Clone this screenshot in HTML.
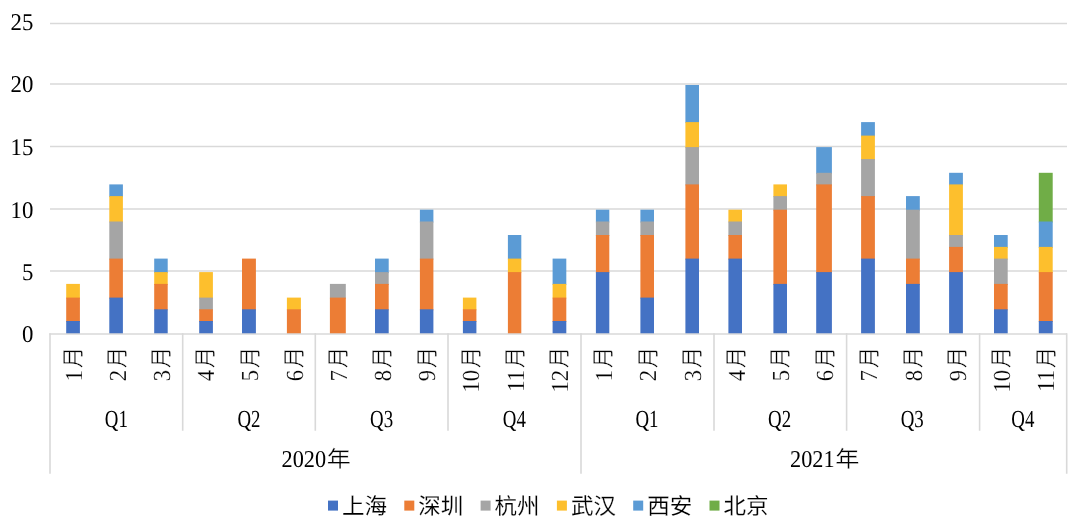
<!DOCTYPE html><html lang="zh-CN"><head><meta charset="utf-8"><style>html,body{margin:0;padding:0;background:#fff;width:1080px;height:529px;overflow:hidden}svg{display:block;will-change:transform}text{text-rendering:geometricPrecision;font-family:"Liberation Serif",serif;fill:#000;stroke:#fff;stroke-width:0}.m{stroke-width:0.2px}.cj{stroke-width:0.35px}.lg{stroke-width:0.15px}</style></head><body>
<svg width="1080" height="529" viewBox="0 0 1080 529">
<rect x="50.0" y="22.75" width="1017" height="1.5" fill="#D9D9D9"/>
<rect x="50.0" y="83.25" width="1017" height="1.5" fill="#D9D9D9"/>
<rect x="50.0" y="145.75" width="1017" height="1.5" fill="#D9D9D9"/>
<rect x="50.0" y="208.25" width="1017" height="1.5" fill="#D9D9D9"/>
<rect x="50.0" y="270.25" width="1017" height="1.5" fill="#D9D9D9"/>
<rect x="66.20" y="283.90" width="13.70" height="14.70" fill="#FDBF2D"/>
<rect x="66.20" y="297.60" width="13.70" height="24.40" fill="#EC7D35"/>
<rect x="66.20" y="321.00" width="13.70" height="13.00" fill="#4472C4"/>
<rect x="109.30" y="184.40" width="13.60" height="12.70" fill="#5B9BD5"/>
<rect x="109.30" y="196.10" width="13.60" height="26.40" fill="#FDBF2D"/>
<rect x="109.30" y="221.50" width="13.60" height="38.10" fill="#A5A5A5"/>
<rect x="109.30" y="258.60" width="13.60" height="40.00" fill="#EC7D35"/>
<rect x="109.30" y="297.60" width="13.60" height="36.40" fill="#4472C4"/>
<rect x="154.20" y="258.60" width="13.50" height="14.50" fill="#5B9BD5"/>
<rect x="154.20" y="272.10" width="13.50" height="12.80" fill="#FDBF2D"/>
<rect x="154.20" y="283.90" width="13.50" height="26.40" fill="#EC7D35"/>
<rect x="154.20" y="309.30" width="13.50" height="24.70" fill="#4472C4"/>
<rect x="199.20" y="272.10" width="13.70" height="26.50" fill="#FDBF2D"/>
<rect x="199.20" y="297.60" width="13.70" height="12.70" fill="#A5A5A5"/>
<rect x="199.20" y="309.30" width="13.70" height="12.70" fill="#EC7D35"/>
<rect x="199.20" y="321.00" width="13.70" height="13.00" fill="#4472C4"/>
<rect x="242.00" y="258.60" width="13.90" height="51.70" fill="#EC7D35"/>
<rect x="242.00" y="309.30" width="13.90" height="24.70" fill="#4472C4"/>
<rect x="286.90" y="297.60" width="14.00" height="12.70" fill="#FDBF2D"/>
<rect x="286.90" y="309.30" width="14.00" height="24.70" fill="#EC7D35"/>
<rect x="329.90" y="283.90" width="15.90" height="14.70" fill="#A5A5A5"/>
<rect x="329.90" y="297.60" width="15.90" height="36.40" fill="#EC7D35"/>
<rect x="375.00" y="258.60" width="13.70" height="14.50" fill="#5B9BD5"/>
<rect x="375.00" y="272.10" width="13.70" height="12.80" fill="#A5A5A5"/>
<rect x="375.00" y="283.90" width="13.70" height="26.40" fill="#EC7D35"/>
<rect x="375.00" y="309.30" width="13.70" height="24.70" fill="#4472C4"/>
<rect x="419.90" y="209.70" width="13.50" height="12.80" fill="#5B9BD5"/>
<rect x="419.90" y="221.50" width="13.50" height="38.10" fill="#A5A5A5"/>
<rect x="419.90" y="258.60" width="13.50" height="51.70" fill="#EC7D35"/>
<rect x="419.90" y="309.30" width="13.50" height="24.70" fill="#4472C4"/>
<rect x="462.90" y="297.60" width="13.50" height="12.70" fill="#FDBF2D"/>
<rect x="462.90" y="309.30" width="13.50" height="12.70" fill="#EC7D35"/>
<rect x="462.90" y="321.00" width="13.50" height="13.00" fill="#4472C4"/>
<rect x="507.90" y="235.00" width="13.40" height="24.60" fill="#5B9BD5"/>
<rect x="507.90" y="258.60" width="13.40" height="14.50" fill="#FDBF2D"/>
<rect x="507.90" y="272.10" width="13.40" height="61.90" fill="#EC7D35"/>
<rect x="552.60" y="258.60" width="13.70" height="26.30" fill="#5B9BD5"/>
<rect x="552.60" y="283.90" width="13.70" height="14.70" fill="#FDBF2D"/>
<rect x="552.60" y="297.60" width="13.70" height="24.40" fill="#EC7D35"/>
<rect x="552.60" y="321.00" width="13.70" height="13.00" fill="#4472C4"/>
<rect x="595.90" y="209.70" width="13.40" height="12.80" fill="#5B9BD5"/>
<rect x="595.90" y="221.50" width="13.40" height="14.50" fill="#A5A5A5"/>
<rect x="595.90" y="235.00" width="13.40" height="38.10" fill="#EC7D35"/>
<rect x="595.90" y="272.10" width="13.40" height="61.90" fill="#4472C4"/>
<rect x="640.40" y="209.70" width="13.60" height="12.80" fill="#5B9BD5"/>
<rect x="640.40" y="221.50" width="13.60" height="14.50" fill="#A5A5A5"/>
<rect x="640.40" y="235.00" width="13.60" height="63.60" fill="#EC7D35"/>
<rect x="640.40" y="297.60" width="13.60" height="36.40" fill="#4472C4"/>
<rect x="685.40" y="85.00" width="13.60" height="38.10" fill="#5B9BD5"/>
<rect x="685.40" y="122.10" width="13.60" height="26.00" fill="#FDBF2D"/>
<rect x="685.40" y="147.10" width="13.60" height="38.30" fill="#A5A5A5"/>
<rect x="685.40" y="184.40" width="13.60" height="75.20" fill="#EC7D35"/>
<rect x="685.40" y="258.60" width="13.60" height="75.40" fill="#4472C4"/>
<rect x="728.40" y="209.70" width="13.60" height="12.80" fill="#FDBF2D"/>
<rect x="728.40" y="221.50" width="13.60" height="14.50" fill="#A5A5A5"/>
<rect x="728.40" y="235.00" width="13.60" height="24.60" fill="#EC7D35"/>
<rect x="728.40" y="258.60" width="13.60" height="75.40" fill="#4472C4"/>
<rect x="773.40" y="184.40" width="13.60" height="12.70" fill="#FDBF2D"/>
<rect x="773.40" y="196.10" width="13.60" height="14.60" fill="#A5A5A5"/>
<rect x="773.40" y="209.70" width="13.60" height="75.20" fill="#EC7D35"/>
<rect x="773.40" y="283.90" width="13.60" height="50.10" fill="#4472C4"/>
<rect x="816.20" y="147.10" width="15.70" height="26.70" fill="#5B9BD5"/>
<rect x="816.20" y="172.80" width="15.70" height="12.60" fill="#A5A5A5"/>
<rect x="816.20" y="184.40" width="15.70" height="88.70" fill="#EC7D35"/>
<rect x="816.20" y="272.10" width="15.70" height="61.90" fill="#4472C4"/>
<rect x="861.10" y="122.10" width="13.80" height="14.50" fill="#5B9BD5"/>
<rect x="861.10" y="135.60" width="13.80" height="24.50" fill="#FDBF2D"/>
<rect x="861.10" y="159.10" width="13.80" height="38.00" fill="#A5A5A5"/>
<rect x="861.10" y="196.10" width="13.80" height="63.50" fill="#EC7D35"/>
<rect x="861.10" y="258.60" width="13.80" height="75.40" fill="#4472C4"/>
<rect x="906.00" y="196.10" width="13.80" height="14.60" fill="#5B9BD5"/>
<rect x="906.00" y="209.70" width="13.80" height="49.90" fill="#A5A5A5"/>
<rect x="906.00" y="258.60" width="13.80" height="26.30" fill="#EC7D35"/>
<rect x="906.00" y="283.90" width="13.80" height="50.10" fill="#4472C4"/>
<rect x="949.10" y="172.80" width="13.80" height="12.60" fill="#5B9BD5"/>
<rect x="949.10" y="184.40" width="13.80" height="51.60" fill="#FDBF2D"/>
<rect x="949.10" y="235.00" width="13.80" height="12.90" fill="#A5A5A5"/>
<rect x="949.10" y="246.90" width="13.80" height="26.20" fill="#EC7D35"/>
<rect x="949.10" y="272.10" width="13.80" height="61.90" fill="#4472C4"/>
<rect x="994.00" y="235.00" width="13.70" height="12.90" fill="#5B9BD5"/>
<rect x="994.00" y="246.90" width="13.70" height="12.70" fill="#FDBF2D"/>
<rect x="994.00" y="258.60" width="13.70" height="26.30" fill="#A5A5A5"/>
<rect x="994.00" y="283.90" width="13.70" height="26.40" fill="#EC7D35"/>
<rect x="994.00" y="309.30" width="13.70" height="24.70" fill="#4472C4"/>
<rect x="1038.80" y="172.80" width="13.90" height="49.70" fill="#70AD47"/>
<rect x="1038.80" y="221.50" width="13.90" height="26.40" fill="#5B9BD5"/>
<rect x="1038.80" y="246.90" width="13.90" height="26.20" fill="#FDBF2D"/>
<rect x="1038.80" y="272.10" width="13.90" height="49.90" fill="#EC7D35"/>
<rect x="1038.80" y="321.00" width="13.90" height="13.00" fill="#4472C4"/>
<rect x="49.25" y="333.25" width="1017.75" height="1.5" fill="#D9D9D9"/>
<rect x="49.20" y="333.25" width="1.6" height="140.5" fill="#D9D9D9"/>
<rect x="580.20" y="333.25" width="1.6" height="140.5" fill="#D9D9D9"/>
<rect x="1065.90" y="333.25" width="1.6" height="140.5" fill="#D9D9D9"/>
<rect x="181.90" y="333.25" width="1.6" height="97.5" fill="#D9D9D9"/>
<rect x="314.50" y="333.25" width="1.6" height="97.5" fill="#D9D9D9"/>
<rect x="447.20" y="333.25" width="1.6" height="97.5" fill="#D9D9D9"/>
<rect x="713.20" y="333.25" width="1.6" height="97.5" fill="#D9D9D9"/>
<rect x="845.80" y="333.25" width="1.6" height="97.5" fill="#D9D9D9"/>
<rect x="978.80" y="333.25" width="1.6" height="97.5" fill="#D9D9D9"/>
<text transform="translate(33.3 29.60) scale(0.95 1)" text-anchor="end" font-size="24.0">25</text>
<text transform="translate(33.3 92.20) scale(0.95 1)" text-anchor="end" font-size="24.0">20</text>
<text transform="translate(33.3 154.70) scale(0.95 1)" text-anchor="end" font-size="24.0">15</text>
<text transform="translate(33.3 217.50) scale(0.95 1)" text-anchor="end" font-size="24.0">10</text>
<text transform="translate(33.3 279.70) scale(0.95 1)" text-anchor="end" font-size="24.0">5</text>
<text transform="translate(33.3 342.20) scale(0.95 1)" text-anchor="end" font-size="24.0">0</text>
<text transform="translate(80.80 346.70) rotate(-90) scale(0.96 1)" text-anchor="end" font-size="22.5" class="cj">月</text>
<text transform="translate(81.50 370.00) rotate(-90) scale(0.92 1)" text-anchor="end" font-size="24.5" class="m">1</text>
<text transform="translate(125.02 346.70) rotate(-90) scale(0.96 1)" text-anchor="end" font-size="22.5" class="cj">月</text>
<text transform="translate(125.72 370.00) rotate(-90) scale(0.92 1)" text-anchor="end" font-size="24.5" class="m">2</text>
<text transform="translate(169.23 346.70) rotate(-90) scale(0.96 1)" text-anchor="end" font-size="22.5" class="cj">月</text>
<text transform="translate(169.93 370.00) rotate(-90) scale(0.92 1)" text-anchor="end" font-size="24.5" class="m">3</text>
<text transform="translate(213.45 346.70) rotate(-90) scale(0.96 1)" text-anchor="end" font-size="22.5" class="cj">月</text>
<text transform="translate(214.15 370.00) rotate(-90) scale(0.92 1)" text-anchor="end" font-size="24.5" class="m">4</text>
<text transform="translate(257.67 346.70) rotate(-90) scale(0.96 1)" text-anchor="end" font-size="22.5" class="cj">月</text>
<text transform="translate(258.37 370.00) rotate(-90) scale(0.92 1)" text-anchor="end" font-size="24.5" class="m">5</text>
<text transform="translate(301.89 346.70) rotate(-90) scale(0.96 1)" text-anchor="end" font-size="22.5" class="cj">月</text>
<text transform="translate(302.59 370.00) rotate(-90) scale(0.92 1)" text-anchor="end" font-size="24.5" class="m">6</text>
<text transform="translate(346.10 346.70) rotate(-90) scale(0.96 1)" text-anchor="end" font-size="22.5" class="cj">月</text>
<text transform="translate(346.80 370.00) rotate(-90) scale(0.92 1)" text-anchor="end" font-size="24.5" class="m">7</text>
<text transform="translate(390.32 346.70) rotate(-90) scale(0.96 1)" text-anchor="end" font-size="22.5" class="cj">月</text>
<text transform="translate(391.02 370.00) rotate(-90) scale(0.92 1)" text-anchor="end" font-size="24.5" class="m">8</text>
<text transform="translate(434.54 346.70) rotate(-90) scale(0.96 1)" text-anchor="end" font-size="22.5" class="cj">月</text>
<text transform="translate(435.24 370.00) rotate(-90) scale(0.92 1)" text-anchor="end" font-size="24.5" class="m">9</text>
<text transform="translate(478.76 346.70) rotate(-90) scale(0.96 1)" text-anchor="end" font-size="22.5" class="cj">月</text>
<text transform="translate(479.46 370.00) rotate(-90) scale(0.92 1)" text-anchor="end" font-size="24.5" class="m">10</text>
<text transform="translate(522.97 346.70) rotate(-90) scale(0.96 1)" text-anchor="end" font-size="22.5" class="cj">月</text>
<text transform="translate(523.67 370.00) rotate(-90) scale(0.92 1)" text-anchor="end" font-size="24.5" class="m">11</text>
<text transform="translate(567.19 346.70) rotate(-90) scale(0.96 1)" text-anchor="end" font-size="22.5" class="cj">月</text>
<text transform="translate(567.89 370.00) rotate(-90) scale(0.92 1)" text-anchor="end" font-size="24.5" class="m">12</text>
<text transform="translate(611.41 346.70) rotate(-90) scale(0.96 1)" text-anchor="end" font-size="22.5" class="cj">月</text>
<text transform="translate(612.11 370.00) rotate(-90) scale(0.92 1)" text-anchor="end" font-size="24.5" class="m">1</text>
<text transform="translate(655.63 346.70) rotate(-90) scale(0.96 1)" text-anchor="end" font-size="22.5" class="cj">月</text>
<text transform="translate(656.33 370.00) rotate(-90) scale(0.92 1)" text-anchor="end" font-size="24.5" class="m">2</text>
<text transform="translate(699.84 346.70) rotate(-90) scale(0.96 1)" text-anchor="end" font-size="22.5" class="cj">月</text>
<text transform="translate(700.54 370.00) rotate(-90) scale(0.92 1)" text-anchor="end" font-size="24.5" class="m">3</text>
<text transform="translate(744.06 346.70) rotate(-90) scale(0.96 1)" text-anchor="end" font-size="22.5" class="cj">月</text>
<text transform="translate(744.76 370.00) rotate(-90) scale(0.92 1)" text-anchor="end" font-size="24.5" class="m">4</text>
<text transform="translate(788.28 346.70) rotate(-90) scale(0.96 1)" text-anchor="end" font-size="22.5" class="cj">月</text>
<text transform="translate(788.98 370.00) rotate(-90) scale(0.92 1)" text-anchor="end" font-size="24.5" class="m">5</text>
<text transform="translate(832.50 346.70) rotate(-90) scale(0.96 1)" text-anchor="end" font-size="22.5" class="cj">月</text>
<text transform="translate(833.20 370.00) rotate(-90) scale(0.92 1)" text-anchor="end" font-size="24.5" class="m">6</text>
<text transform="translate(876.71 346.70) rotate(-90) scale(0.96 1)" text-anchor="end" font-size="22.5" class="cj">月</text>
<text transform="translate(877.41 370.00) rotate(-90) scale(0.92 1)" text-anchor="end" font-size="24.5" class="m">7</text>
<text transform="translate(920.93 346.70) rotate(-90) scale(0.96 1)" text-anchor="end" font-size="22.5" class="cj">月</text>
<text transform="translate(921.63 370.00) rotate(-90) scale(0.92 1)" text-anchor="end" font-size="24.5" class="m">8</text>
<text transform="translate(965.15 346.70) rotate(-90) scale(0.96 1)" text-anchor="end" font-size="22.5" class="cj">月</text>
<text transform="translate(965.85 370.00) rotate(-90) scale(0.92 1)" text-anchor="end" font-size="24.5" class="m">9</text>
<text transform="translate(1009.37 346.70) rotate(-90) scale(0.96 1)" text-anchor="end" font-size="22.5" class="cj">月</text>
<text transform="translate(1010.07 370.00) rotate(-90) scale(0.92 1)" text-anchor="end" font-size="24.5" class="m">10</text>
<text transform="translate(1053.58 346.70) rotate(-90) scale(0.96 1)" text-anchor="end" font-size="22.5" class="cj">月</text>
<text transform="translate(1054.28 370.00) rotate(-90) scale(0.92 1)" text-anchor="end" font-size="24.5" class="m">11</text>
<text transform="translate(116.33 426.7) scale(0.77 1)" text-anchor="middle" font-size="24.5">Q1</text>
<text transform="translate(248.98 426.7) scale(0.77 1)" text-anchor="middle" font-size="24.5">Q2</text>
<text transform="translate(381.63 426.7) scale(0.77 1)" text-anchor="middle" font-size="24.5">Q3</text>
<text transform="translate(514.28 426.7) scale(0.77 1)" text-anchor="middle" font-size="24.5">Q4</text>
<text transform="translate(646.93 426.7) scale(0.77 1)" text-anchor="middle" font-size="24.5">Q1</text>
<text transform="translate(779.59 426.7) scale(0.77 1)" text-anchor="middle" font-size="24.5">Q2</text>
<text transform="translate(912.24 426.7) scale(0.77 1)" text-anchor="middle" font-size="24.5">Q3</text>
<text transform="translate(1022.78 426.7) scale(0.77 1)" text-anchor="middle" font-size="24.5">Q4</text>
<text transform="translate(326.10 467.1) scale(0.92 1)" text-anchor="end" font-size="24.2">2020</text>
<text transform="translate(326.70 467.1) scale(1.06 1)" font-size="22.8" class="cj">年</text>
<text transform="translate(834.60 467.1) scale(0.92 1)" text-anchor="end" font-size="24.2">2021</text>
<text transform="translate(835.20 467.1) scale(1.06 1)" font-size="22.8" class="cj">年</text>
<rect x="328.0" y="500.6" width="10" height="10" fill="#4472C4"/>
<text x="342.0" y="514" font-size="22.5" class="lg">上海</text>
<rect x="404.3" y="500.6" width="10" height="10" fill="#EC7D35"/>
<text x="418.3" y="514" font-size="22.5" class="lg">深圳</text>
<rect x="480.6" y="500.6" width="10" height="10" fill="#A5A5A5"/>
<text x="494.6" y="514" font-size="22.5" class="lg">杭州</text>
<rect x="556.9" y="500.6" width="10" height="10" fill="#FDBF2D"/>
<text x="570.9" y="514" font-size="22.5" class="lg">武汉</text>
<rect x="633.2" y="500.6" width="10" height="10" fill="#5B9BD5"/>
<text x="647.2" y="514" font-size="22.5" class="lg">西安</text>
<rect x="709.5" y="500.6" width="10" height="10" fill="#70AD47"/>
<text x="723.5" y="514" font-size="22.5" class="lg">北京</text>
</svg></body></html>
